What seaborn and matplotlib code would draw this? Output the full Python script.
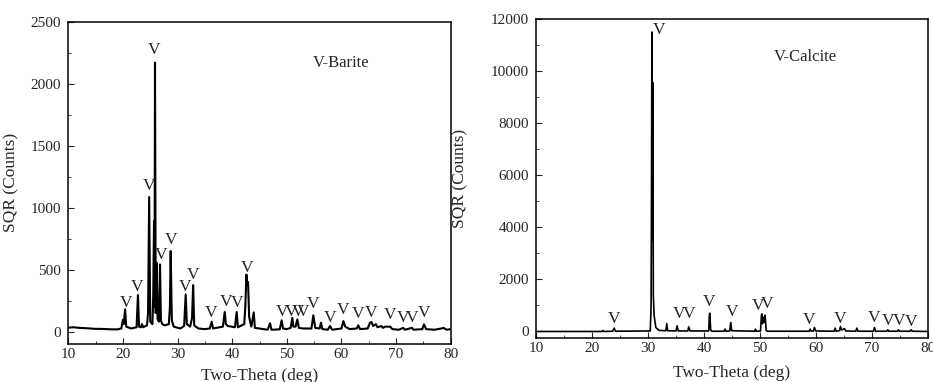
import pandas as pd
import seaborn as sns
import matplotlib.pyplot as plt
from matplotlib.ticker import MultipleLocator

# Barite pattern, points
barite_theta = [10.0, 11.0, 12.0, 13.0, 14.0, 15.0, 16.0, 17.0, 18.0, 19.0, 19.7, 20.0, 20.15, 20.4, 20.6,
                21.5, 22.5, 22.75, 22.95, 23.3, 23.5, 23.7, 24.4, 24.6, 24.8, 25.0, 25.4, 25.55, 25.69, 25.78,
                25.87, 26.0, 26.18, 26.35, 26.6, 26.79, 26.95, 27.2, 27.6, 28.4, 28.6, 28.74, 28.95, 29.3,
                30.5, 31.2, 31.49, 31.7, 32.3, 32.65, 32.85, 33.05, 33.8, 35.0, 35.9, 36.25, 36.5, 38.3,
                38.63, 38.85, 39.2, 40.5, 40.82, 41.05, 42.2, 42.4, 42.6, 42.75, 42.9, 43.1, 43.5, 43.94,
                44.15, 46.5, 46.93, 47.2, 48.7, 49.06, 49.3, 50.0, 50.7, 51.0, 51.2, 51.6, 51.92, 52.2,
                53.0, 54.5, 54.85, 55.2, 56.0, 56.26, 56.5, 57.5, 57.9, 58.3, 60.0, 60.35, 60.7, 61.5,
                62.8, 63.08, 63.4, 64.8, 65.2, 65.5, 65.8, 66.3, 66.6, 67.3, 67.6, 68.0, 68.9, 69.3,
                70.5, 71.3, 71.6, 72.9, 73.2, 74.8, 75.1, 75.5, 77.0, 78.3, 78.7, 79.2, 80.0]
barite_counts = [32, 35, 30, 28, 25, 22, 22, 20, 18, 18, 25, 95, 60, 180, 40,
                 25, 35, 295, 40, 35, 60, 35, 50, 150, 1085, 80, 60, 300, 890, 200,
                 2170, 150, 555, 100, 80, 542, 90, 60, 50, 60, 200, 650, 90, 40,
                 25, 45, 300, 60, 40, 110, 375, 50, 25, 20, 25, 80, 25, 40,
                 158, 60, 45, 35, 158, 35, 60, 200, 460, 380, 400, 120, 40, 155,
                 30, 15, 67, 15, 18, 91, 25, 20, 30, 110, 40, 40, 99, 30,
                 25, 25, 131, 30, 25, 72, 20, 15, 45, 15, 25, 85, 40, 20,
                 25, 51, 20, 25, 70, 77, 45, 60, 35, 45, 30, 40, 40, 20,
                 15, 30, 15, 30, 15, 20, 59, 20, 15, 25, 30, 15, 20]
barite_mark_x = [20.5, 22.6, 24.8, 25.75, 26.95, 28.75, 31.4, 32.75, 36.1, 38.8, 40.8, 42.65,
                 49.05, 50.8, 52.0, 52.9, 54.85, 57.9, 60.35, 63.1, 65.5, 68.9, 71.3, 72.85, 75.1]
barite_mark_y = [228, 362, 1172, 2272, 617, 738, 362, 453, 153, 241, 233, 515,
                 161, 161, 161, 161, 220, 113, 172, 140, 153, 134, 113, 113, 148]

# Calcite pattern
calcite_theta = [10.0, 21.8, 21.95, 22.1, 23.7, 23.95, 24.2, 30.4, 30.55, 30.62, 30.7, 30.78, 30.86,
                 30.95, 31.1, 31.4, 32.0, 33.2, 33.35, 33.5, 35.0, 35.19, 35.4, 37.1, 37.28, 37.5,
                 40.85, 40.95, 41.03, 41.2, 41.4, 43.6, 43.77, 43.95, 44.6, 44.78, 44.95, 49.1, 49.19,
                 49.35, 50.1, 50.25, 50.32, 50.45, 50.6, 50.75, 50.92, 51.1, 51.3, 58.8, 58.96, 59.1,
                 59.55, 59.73, 59.95, 63.25, 63.42, 63.6, 64.2, 64.38, 64.55, 64.8, 65.1, 65.3, 67.1,
                 67.3, 67.5, 70.25, 70.45, 70.65, 72.65, 72.83, 73.0, 74.55, 74.74, 74.9, 76.8, 77.0,
                 77.2, 80.0]
calcite_counts = [0, 0, 40, 0, 10, 128, 10, 20, 900, 4900, 11500, 3500, 9560,
                  1400, 600, 150, 40, 30, 306, 30, 20, 217, 20, 20, 179, 20,
                  20, 600, 702, 60, 10, 10, 90, 10, 20, 345, 30, 10, 90,
                  10, 20, 600, 677, 300, 550, 350, 625, 40, 10, 10, 90, 20,
                  20, 153, 20, 10, 128, 10, 30, 192, 60, 80, 110, 20, 10,
                  128, 10, 10, 153, 10, 10, 64, 10, 10, 64, 10, 10, 64,
                  10, 0]
calcite_mark_x = [24.0, 32.0, 35.5, 37.3, 40.9, 44.95, 49.7, 51.3, 58.8, 64.3, 70.4, 72.95, 74.9, 76.95]
calcite_mark_y = [498, 11580, 664, 664, 1150, 766, 983, 1047, 447, 498, 536, 409, 409, 370]

sns.set_style('ticks')
plt.rcParams['font.family'] = ['Liberation Serif', 'DejaVu Serif']

fig = plt.figure(figsize=(9.33, 3.82), dpi=100)
ax1 = fig.add_axes([0.0732, 0.0995, 0.4099, 0.8437])
ax2 = fig.add_axes([0.5745, 0.1152, 0.4201, 0.8351])

barite = pd.DataFrame({'theta': barite_theta, 'counts': barite_counts})
calcite = pd.DataFrame({'theta': calcite_theta, 'counts': calcite_counts})

sns.lineplot(data=barite, x='theta', y='counts', ax=ax1, color='black', lw=1.5,
             estimator=None, sort=False)
sns.lineplot(data=calcite, x='theta', y='counts', ax=ax2, color='black', lw=1.2,
             estimator=None, sort=False)

for x, y in zip(barite_mark_x, barite_mark_y):
    ax1.text(x, y, 'V', ha='center', va='center', fontsize=12.5, color='#222222')
for x, y in zip(calcite_mark_x, calcite_mark_y):
    ax2.text(x, y, 'V', ha='center', va='center', fontsize=12.5, color='#222222')

ax1.text(60.0, 2165, 'V-Barite', ha='center', va='center', fontsize=12)
ax2.text(58.1, 10535, 'V-Calcite', ha='center', va='center', fontsize=12)

ax1.set_xlim(10, 80)
ax1.set_ylim(-100, 2500)
ax1.yaxis.set_major_locator(MultipleLocator(500))
ax1.yaxis.set_minor_locator(MultipleLocator(250))

ax2.set_xlim(10, 80)
ax2.set_ylim(-250, 12000)
ax2.yaxis.set_major_locator(MultipleLocator(2000))
ax2.yaxis.set_minor_locator(MultipleLocator(1000))

for ax in (ax1, ax2):
    ax.xaxis.set_major_locator(MultipleLocator(10))
    ax.xaxis.set_minor_locator(MultipleLocator(5))
    ax.tick_params(which='both', direction='in', labelsize=11, pad=3)
    ax.tick_params(which='major', length=4)
    ax.tick_params(which='minor', length=2.5)
    ax.tick_params(axis='y', pad=5)
    for s in ax.spines.values():
        s.set_linewidth(1.1)
        s.set_color('black')
    ax.set_xlabel('Two-Theta (deg)', fontsize=12.5)
    ax.set_ylabel('SQR (Counts)', fontsize=12.5)

ax1.xaxis.set_label_coords(0.5, -0.075)
ax1.yaxis.set_label_coords(-0.128, 0.5)
ax2.xaxis.set_label_coords(0.5, -0.085)
ax2.yaxis.set_label_coords(-0.172, 0.5)

fig.savefig('out.png', dpi=100)
